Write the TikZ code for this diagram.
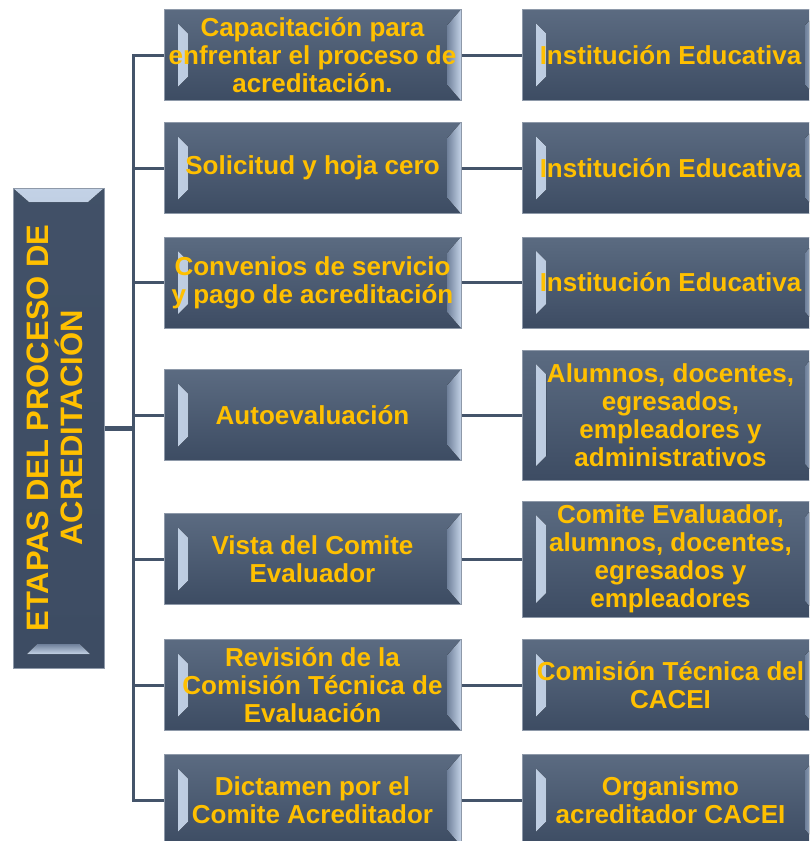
\documentclass[tikz,border=0pt]{standalone}
\usepackage{fontspec}
\setmainfont{Liberation Sans}
\usepackage{graphicx}
\usepackage{tikz}
\definecolor{slate}{HTML}{44546A}
\definecolor{boxtop}{HTML}{5B6B81}
\definecolor{boxbot}{HTML}{3D4C63}
\definecolor{bevlight}{HTML}{C3D2E6}
\definecolor{bevdark}{HTML}{6F809A}
\definecolor{gold}{HTML}{FFC000}
\definecolor{rim}{HTML}{8E99A9}
\tikzset{
  stage/.style={draw=rim, line width=1pt, top color=boxtop, bottom color=boxbot, text=gold,
    font=\bfseries\fontsize{26}{28}\selectfont, align=center, inner sep=0pt,
    minimum width=297pt, minimum height=#1,
    path picture={
      \fill[left color=bevlight, right color=bevdark]
        ([shift={(14pt,-14pt)}]path picture bounding box.north west) --
        ([shift={(24pt,-24pt)}]path picture bounding box.north west) --
        ([shift={(24pt,24pt)}]path picture bounding box.south west) --
        ([shift={(14pt,14pt)}]path picture bounding box.south west) -- cycle;
      \fill[left color=bevdark, right color=bevlight]
        (path picture bounding box.north east) --
        ([shift={(-14pt,-16pt)}]path picture bounding box.north east) --
        ([shift={(-14pt,16pt)}]path picture bounding box.south east) --
        (path picture bounding box.south east) -- cycle;
    }},
  stage/.default=91pt,
  rootbox/.style={stage, minimum width=91pt, minimum height=480pt,
    top color=boxbot!85!boxtop, bottom color=boxbot,
    font=\bfseries\fontsize{31}{35}\selectfont,
    path picture={
      \fill[top color=bevlight, bottom color=bevdark]
        (path picture bounding box.north west) --
        (path picture bounding box.north east) --
        ([shift={(-16pt,-14pt)}]path picture bounding box.north east) --
        ([shift={(16pt,-14pt)}]path picture bounding box.north west) -- cycle;
      \fill[top color=bevdark, bottom color=bevlight]
        ([shift={(14pt,14pt)}]path picture bounding box.south west) --
        ([shift={(-14pt,14pt)}]path picture bounding box.south east) --
        ([shift={(-24pt,24pt)}]path picture bounding box.south east) --
        ([shift={(24pt,24pt)}]path picture bounding box.south west) -- cycle;
    }},
  link/.style={draw=slate, line width=3pt}
}
\begin{document}
\begin{tikzpicture}[x=1pt, y=-1pt]
  \useasboundingbox (0,0) rectangle (809,841);
  \clip (0,0) rectangle (809,841);
  \node[rootbox] (E) at (58.5,428)
    {\rotatebox{90}{\begin{tabular}{@{}c@{}}ETAPAS DEL PROCESO DE\\[-4pt]ACREDITACIÓN\end{tabular}}};
  \coordinate (T) at (133,428);
  \draw[link, line width=5pt] (E) -- (T);
  \foreach \y/\h/\a/\b [count=\i] in {
      55/91/{Capacitación para\\enfrentar el proceso de\\acreditación.}/{Institución Educativa},
      168/91/{Solicitud y hoja cero}/{Institución Educativa},
      282.5/91/{Convenios de servicio\\y pago de acreditación}/{Institución Educativa},
      415/130/{Autoevaluación}/{Alumnos, docentes,\\egresados,\\empleadores y\\administrativos},
      559/116/{Vista del Comite\\Evaluador}/{Comite Evaluador,\\alumnos, docentes,\\egresados y\\empleadores},
      685/91/{Revisión de la\\Comisión Técnica de\\Evaluación}/{Comisión Técnica del\\CACEI},
      800/91/{Dictamen por el\\Comite Acreditador}/{Organismo\\acreditador CACEI}}{
    \node[stage] (S\i) at (312.5,\y) {\a};
    \node[stage=\h pt] (R\i) at (670.5,\y) {\b};
    \draw[link] (T) |- (S\i);
    \draw[link] (S\i) -- (R\i);
  }
\end{tikzpicture}
\end{document}
